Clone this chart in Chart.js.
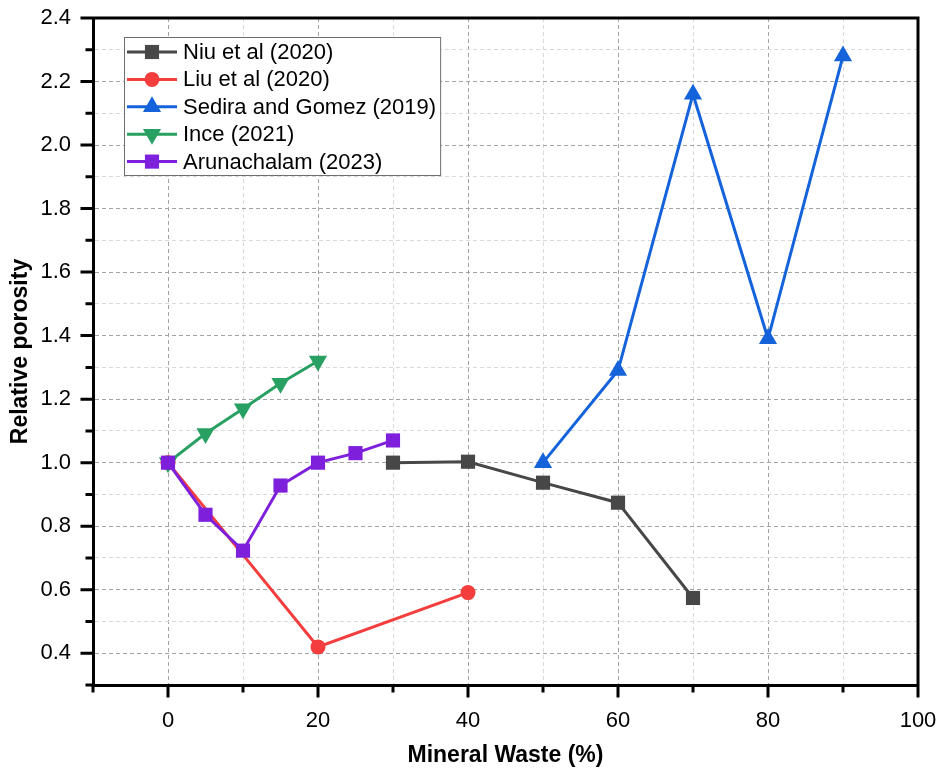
<!DOCTYPE html>
<html>
<head>
<meta charset="utf-8">
<title>Relative porosity vs mineral waste</title>
<script src="https://cdn.jsdelivr.net/npm/chart.js@4.4.1/dist/chart.umd.min.js"></script>
<style>
  body { margin: 0; background: #fff; }
  #wrap { width: 938px; height: 769px; position: relative; }
</style>
</head>
<body>
<div id="wrap"><canvas id="chart"></canvas></div>
<script>
// series values (x = mineral waste %, y = relative porosity)
const niuX = [30, 40, 50, 60, 70];
const niuY = [1.0, 1.003, 0.937, 0.874, 0.574];

const liuX = [0, 20, 40];
const liuY = [1.0, 0.42, 0.591];

const sediraX = [50, 60, 70, 80, 90];
const sediraY = [1.0, 1.29, 2.16, 1.39, 2.28];

const inceX = [0, 5, 10, 15, 20];
const inceY = [1.0, 1.092, 1.17, 1.25, 1.32];

const arunX = [0, 5, 10, 15, 20, 25, 30];
const arunY = [1.0, 0.836, 0.723, 0.928, 1.0, 1.03, 1.07];

const seriesLabels = [
  'Niu et al (2020)',
  'Liu et al (2020)',
  'Sedira and Gomez (2019)',
  'Ince (2021)',
  'Arunachalam (2023)'
];

// axis ticks
const xTicksMajor = [0, 20, 40, 60, 80, 100];
const yTicksMajor = [0.4, 0.6, 0.8, 1.0, 1.2, 1.4, 1.6, 1.8, 2.0, 2.2, 2.4];

const FONT = "'Liberation Sans', Arial, sans-serif";

function toPoints(xs, ys) {
  return xs.map((x, i) => ({ x: x, y: ys[i] }));
}

function makeSeries(label, xs, ys, color, style, radius, rotation, order) {
  return {
    label: label,
    data: toPoints(xs, ys),
    borderColor: color,
    backgroundColor: color,
    pointBackgroundColor: color,
    pointBorderColor: color,
    borderWidth: 3,
    pointStyle: style,
    pointRadius: radius,
    pointHoverRadius: radius,
    pointRotation: rotation,
    pointBorderWidth: 0,
    tension: 0,
    order: order
  };
}

const datasets = [
  makeSeries(seriesLabels[0], niuX, niuY, '#474747', 'rect', 10, 0, 5),
  makeSeries(seriesLabels[1], liuX, liuY, '#F43D3D', 'circle', 7.5, 0, 4),
  makeSeries(seriesLabels[2], sediraX, sediraY, '#1563DB', 'triangle', 10.5, 0, 3),
  makeSeries(seriesLabels[3], inceX, inceY, '#27A062', 'triangle', 10.5, 180, 2),
  makeSeries(seriesLabels[4], arunX, arunY, '#7E1FDC', 'rect', 10, 0, 1)
];

function isMajorX(v) { return xTicksMajor.includes(v); }
function isMajorY(v) { return yTicksMajor.some(t => Math.abs(t - v) < 1e-6); }

// no extra room for label overflow: plot area comes only from layout padding
function noScalePadding(scale) {
  scale.paddingTop = 0;
  scale.paddingBottom = 0;
  scale.paddingLeft = 0;
  scale.paddingRight = 0;
}

// draw a marker like the chart's own points (used in the legend)
function drawMarker(ctx, style, x, y, r, rotation, color) {
  ctx.save();
  ctx.fillStyle = color;
  ctx.translate(x, y);
  ctx.rotate(rotation * Math.PI / 180);
  ctx.beginPath();
  if (style === 'circle') {
    ctx.arc(0, 0, r, 0, Math.PI * 2);
  } else if (style === 'rect') {
    const s = r * Math.SQRT1_2;
    ctx.rect(-s, -s, 2 * s, 2 * s);
  } else if (style === 'triangle') {
    for (let k = 0; k < 3; k++) {
      const a = k * 2 * Math.PI / 3;
      const px = Math.sin(a) * r, py = -Math.cos(a) * r;
      if (k === 0) ctx.moveTo(px, py); else ctx.lineTo(px, py);
    }
    ctx.closePath();
  }
  ctx.fill();
  ctx.restore();
}

// tick marks (long major, short minor), frame on top/right and the boxed legend
const framePlugin = {
  id: 'frameAndLegend',
  afterDraw(chart) {
    const ctx = chart.ctx;
    const a = chart.chartArea;
    const xs = chart.scales.x, ys = chart.scales.y;
    ctx.save();
    ctx.strokeStyle = '#000';
    ctx.lineWidth = 3;
    ctx.beginPath();
    xs.ticks.forEach(t => {
      const px = xs.getPixelForValue(t.value);
      const len = isMajorX(t.value) ? 11 : 6;
      ctx.moveTo(px, a.bottom);
      ctx.lineTo(px, a.bottom + 1.5 + len);
    });
    ys.ticks.forEach(t => {
      const py = ys.getPixelForValue(t.value);
      const len = isMajorY(t.value) ? 11 : 6;
      ctx.moveTo(a.left, py);
      ctx.lineTo(a.left - 1.5 - len, py);
    });
    ctx.stroke();

    ctx.beginPath();
    ctx.moveTo(a.left, a.top);
    ctx.lineTo(a.right, a.top);
    ctx.lineTo(a.right, a.bottom);
    ctx.stroke();

    // legend
    const bx = a.left + 31, by = a.top + 19;
    const rowH = 27.4;
    ctx.font = '22px ' + FONT;
    let maxW = 0;
    chart.data.datasets.forEach(ds => { maxW = Math.max(maxW, ctx.measureText(ds.label).width); });
    const bw = 59 + maxW + 4;
    const bh = rowH * chart.data.datasets.length + 1;
    ctx.fillStyle = '#fff';
    ctx.fillRect(bx, by, bw, bh);
    ctx.strokeStyle = '#6e6e6e';
    ctx.lineWidth = 1;
    ctx.strokeRect(bx + 0.5, by + 0.5, bw, bh);

    chart.data.datasets.forEach((ds, i) => {
      const cy = by + 15 + i * rowH;
      ctx.strokeStyle = ds.borderColor;
      ctx.lineWidth = 3;
      ctx.beginPath();
      ctx.moveTo(bx + 3, cy);
      ctx.lineTo(bx + 53, cy);
      ctx.stroke();
      drawMarker(ctx, ds.pointStyle, bx + 28, cy, ds.pointRadius, ds.pointRotation, ds.borderColor);
      ctx.fillStyle = '#000';
      ctx.textBaseline = 'middle';
      ctx.textAlign = 'left';
      ctx.fillText(ds.label, bx + 59, cy + 1);
    });
    ctx.restore();
  }
};

const ctx = document.getElementById('chart').getContext('2d');
new Chart(ctx, {
  type: 'line',
  data: { datasets: datasets },
  options: {
    responsive: true,
    maintainAspectRatio: false,
    animation: false,
    layout: { padding: { left: 0, top: 18, right: 20, bottom: 0 } },
    plugins: {
      legend: { display: false },
      tooltip: { enabled: false }
    },
    scales: {
      x: {
        type: 'linear',
        min: -10,
        max: 100,
        afterFit(scale) { scale.height = 84; noScalePadding(scale); },
        ticks: {
          stepSize: 10,
          autoSkip: false,
          maxRotation: 0,
          padding: 23,
          color: '#000',
          font: { family: FONT, size: 22 },
          callback: v => (isMajorX(v) ? String(v) : '')
        },
        grid: {
          color: c => (isMajorX(c.tick.value) ? '#a3a3a3' : '#d9d9d9'),
          lineWidth: 1,
          drawTicks: false
        },
        border: { display: true, color: '#000', width: 3, dash: [4, 3] },
        title: {
          display: true,
          text: 'Mineral Waste (%)',
          color: '#000',
          font: { family: FONT, size: 23, weight: 'bold' },
          padding: { top: 0, bottom: 0 }
        }
      },
      y: {
        type: 'linear',
        min: 0.3,
        max: 2.4,
        afterFit(scale) { scale.width = 93; noScalePadding(scale); },
        ticks: {
          stepSize: 0.1,
          autoSkip: false,
          padding: 22,
          color: '#000',
          font: { family: FONT, size: 22 },
          callback: v => (isMajorY(v) ? v.toFixed(1) : '')
        },
        grid: {
          color: c => (isMajorY(c.tick.value) ? '#a3a3a3' : '#d9d9d9'),
          lineWidth: 1,
          drawTicks: false
        },
        border: { display: true, color: '#000', width: 3, dash: [4, 3] },
        title: {
          display: true,
          text: 'Relative porosity',
          color: '#000',
          font: { family: FONT, size: 23, weight: 'bold' },
          padding: { top: 7, bottom: 0 }
        }
      }
    }
  },
  plugins: [framePlugin]
});
</script>
</body>
</html>
